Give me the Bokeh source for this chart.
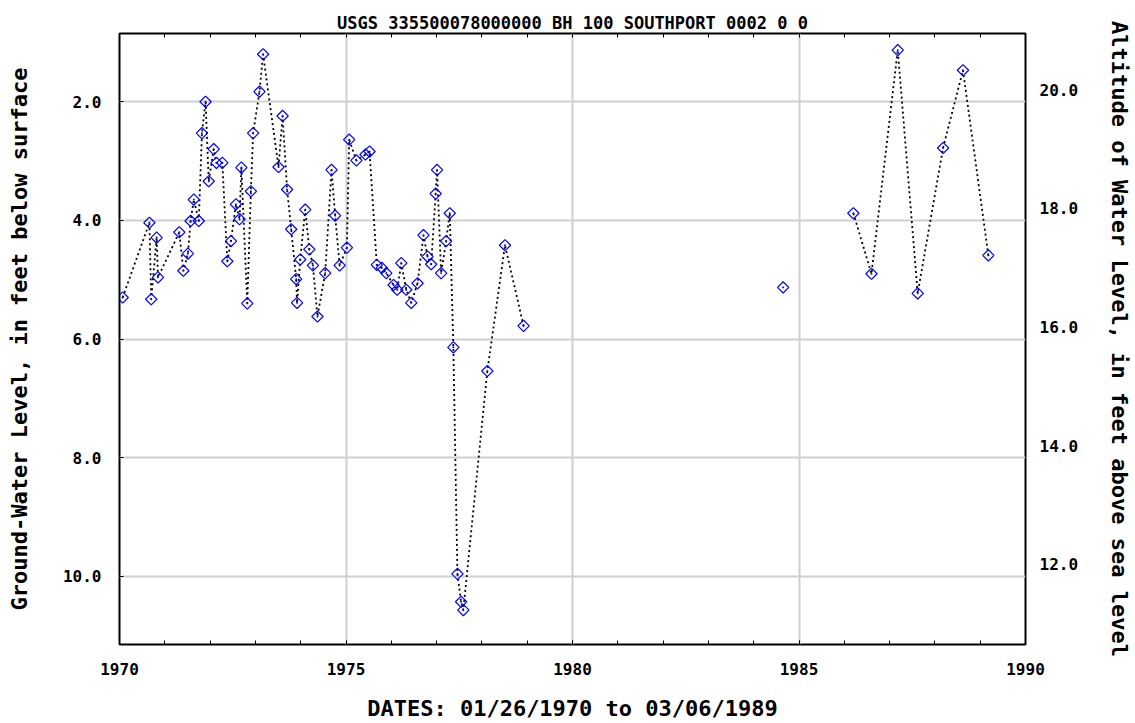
import math
from bokeh.plotting import figure
from bokeh.models import Range1d, LinearAxis, FixedTicker, PrintfTickFormatter
from bokeh.embed import file_html
from bokeh.resources import INLINE

# ---- data (decimal year of measurement, depth to water in feet below land surface)
dates = [1970.07, 1970.66, 1970.70, 1970.82, 1970.85, 1971.32, 1971.41, 1971.51,
         1971.57, 1971.64, 1971.75, 1971.82, 1971.90, 1971.97, 1972.08, 1972.14,
         1972.27, 1972.38, 1972.46, 1972.57, 1972.65, 1972.69, 1972.82, 1972.90,
         1972.95, 1973.09, 1973.17, 1973.51, 1973.60, 1973.70, 1973.79, 1973.90,
         1973.92, 1973.99, 1974.10, 1974.19, 1974.27, 1974.37, 1974.54, 1974.68,
         1974.76, 1974.86, 1975.02, 1975.07, 1975.23, 1975.43, 1975.52, 1975.68,
         1975.79, 1975.89, 1976.05, 1976.13, 1976.22, 1976.33, 1976.44, 1976.58,
         1976.71, 1976.80, 1976.88, 1976.98, 1977.01, 1977.10, 1977.21, 1977.29,
         1977.37, 1977.46, 1977.54, 1977.59, 1978.12, 1978.51, 1978.92, 1984.65,
         1986.20, 1986.60, 1987.18, 1987.62, 1988.18, 1988.62, 1989.18]
depth = [5.30, 4.04, 5.33, 4.29, 4.96, 4.20, 4.85, 4.56,
         4.01, 3.65, 4.01, 2.53, 2.00, 3.34, 2.80, 3.03,
         3.03, 4.69, 4.35, 3.73, 3.98, 3.11, 5.40, 3.51,
         2.53, 1.83, 1.20, 3.10, 2.24, 3.48, 4.15, 4.99,
         5.39, 4.66, 3.82, 4.49, 4.76, 5.62, 4.89, 3.15,
         3.92, 4.76, 4.46, 2.64, 2.99, 2.89, 2.84, 4.75,
         4.80, 4.89, 5.09, 5.17, 4.72, 5.17, 5.39, 5.06,
         4.25, 4.61, 4.74, 3.55, 3.15, 4.89, 4.35, 3.88,
         6.14, 9.96, 10.43, 10.57, 6.54, 4.42, 5.78, 5.13,
         3.88, 4.90, 1.13, 5.23, 2.78, 1.47, 4.59]

LAND_SURFACE_ALT = 21.8          # feet above sea level
depth_ticks = [2, 4, 6, 8, 10]
alt_ticks = [12, 14, 16, 18, 20]
year_major = [1970, 1975, 1980, 1985, 1990]
year_minor = list(range(1970, 1991))

title_text = "USGS 335500078000000 BH 100 SOUTHPORT 0002 0 0"
x_title = "DATES: 01/26/1970 to 03/06/1989"
y_title = "Ground-Water Level, in feet below surface"
y2_title = "Altitude of Water Level, in feet above sea level"

MAX_GAP_YEARS = 1.5
FONT = "DejaVu Sans Mono"

# ---- figure
y_top, y_bot = 0.85, 11.15
p = figure(width=1135, height=723, output_backend="svg", toolbar_location=None,
           x_range=Range1d(1970, 1990), y_range=Range1d(y_bot, y_top),
           min_border_left=119, min_border_right=109, min_border_top=33,
           min_border_bottom=76, background_fill_color="white",
           border_fill_color="white", title=title_text)
p.title.text_font = FONT
p.title.text_font_style = "bold"
p.title.text_font_size = "17px"
p.title.text_color = "black"
p.title.align = "center"
p.title.standoff = 2
p.outline_line_color = "black"
p.outline_line_width = 2

p.extra_y_ranges = {"alt": Range1d(LAND_SURFACE_ALT - y_bot, LAND_SURFACE_ALT - y_top)}

# grids
for g in (p.xgrid, p.ygrid):
    g.grid_line_color = "#cfcfcf"
    g.grid_line_width = 2

# bottom axis
xa = p.xaxis[0]
xa.ticker = FixedTicker(ticks=year_major, minor_ticks=year_minor)
xa.formatter = PrintfTickFormatter(format="%d")
xa.axis_label = x_title
# left axis
ya = p.yaxis[0]
ya.ticker = FixedTicker(ticks=depth_ticks)
ya.formatter = PrintfTickFormatter(format="%.1f")
ya.axis_label = y_title

for ax in (xa, ya):
    ax.axis_line_color = None
    ax.major_tick_line_color = "black"
    ax.minor_tick_line_color = "black"
    ax.major_tick_out = 0
    ax.major_tick_in = 4
    ax.minor_tick_out = 0
    ax.minor_tick_in = 4
    ax.major_label_text_font = FONT
    ax.major_label_text_font_style = "bold"
    ax.major_label_text_font_size = "16px"
    ax.major_label_text_color = "black"
    ax.axis_label_text_font = FONT
    ax.axis_label_text_font_style = "bold"
    ax.axis_label_text_font_size = "22px"
    ax.axis_label_text_color = "black"
ya.minor_tick_line_color = None
xa.major_label_standoff = 18
xa.axis_label_standoff = 18
ya.major_label_standoff = 18
ya.axis_label_standoff = 28

# top axis: yearly ticks only, no labels
top = LinearAxis(ticker=FixedTicker(ticks=[], minor_ticks=year_minor),
                 axis_line_color=None, minor_tick_in=4, minor_tick_out=0,
                 minor_tick_line_color="black", major_label_standoff=0)
p.add_layout(top, "above")

# right axis: altitude
ra = LinearAxis(y_range_name="alt", ticker=FixedTicker(ticks=alt_ticks),
                formatter=PrintfTickFormatter(format="%.1f"),
                axis_label=y2_title, axis_line_color=None,
                major_tick_out=0, major_tick_in=0, minor_tick_out=0, minor_tick_in=0,
                major_label_text_font=FONT, major_label_text_font_style="bold",
                major_label_text_font_size="16px", major_label_text_color="black",
                axis_label_text_font=FONT, axis_label_text_font_style="bold",
                axis_label_text_font_size="22px", axis_label_text_color="black",
                major_label_standoff=14, axis_label_standoff=26)
p.add_layout(ra, "right")

# ---- line segments (break where gap between measurements is large)
segs_x, segs_y = [], []
cx, cy = [dates[0]], [depth[0]]
for i in range(1, len(dates)):
    if dates[i] - dates[i - 1] > MAX_GAP_YEARS:
        segs_x.append(cx); segs_y.append(cy)
        cx, cy = [], []
    cx.append(dates[i]); cy.append(depth[i])
segs_x.append(cx); segs_y.append(cy)

p.multi_line(segs_x, segs_y, line_color="black", line_width=1.8, line_dash="2 3")
p.scatter(dates, depth, marker="square_dot", angle=math.pi / 4, size=8,
          line_color="#0000ff", fill_color=None, line_width=1.2)

open("out.html", "w").write(file_html(p, INLINE))
